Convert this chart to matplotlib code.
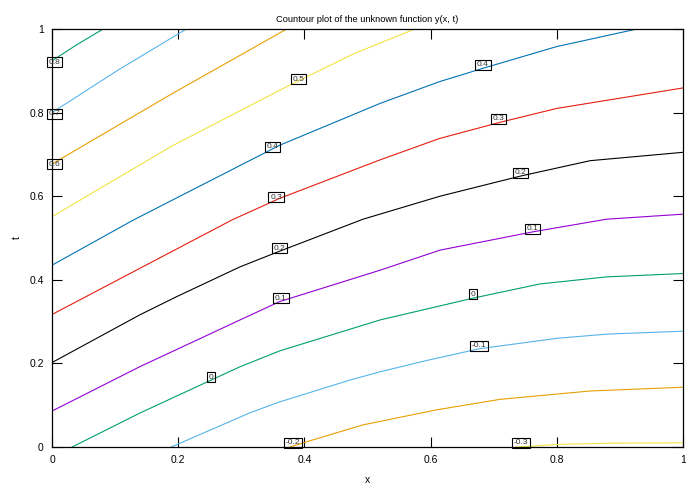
import matplotlib
matplotlib.use("Agg")
import matplotlib.pyplot as plt

plt.rcParams['font.family'] = ['Liberation Sans', 'DejaVu Sans']

# contour levels, highest first (gnuplot colour cycle)
levels = [0.8, 0.7, 0.6, 0.5, 0.4, 0.3, 0.2, 0.1, 0.0, -0.1, -0.2, -0.3]
colors = ['#009e73', '#56b4e9', '#e69f00', '#f0e442', '#0072b2', '#e51e10',
          '#000000', '#9400d3', '#009e73', '#56b4e9', '#e69f00', '#f0e442']

# contour polylines (x, t)
line_x = [
    [0, 0.04, 0.081],
    [0, 0.105, 0.213],
    [0, 0.19, 0.372],
    [0, 0.19, 0.377, 0.48, 0.575],
    [0, 0.129, 0.361, 0.520, 0.614, 0.683, 0.800, 0.927],
    [0, 0.087, 0.285, 0.361, 0.520, 0.614, 0.708, 0.800, 1.0],
    [0, 0.139, 0.198, 0.298, 0.360, 0.493, 0.615, 0.742, 0.853, 1.0],
    [0, 0.139, 0.298, 0.361, 0.520, 0.615, 0.763, 0.879, 1.0],
    [0.032, 0.139, 0.252, 0.298, 0.361, 0.520, 0.667, 0.773, 0.879, 1.0],
    [0.189, 0.314, 0.361, 0.472, 0.520, 0.594, 0.677, 0.800, 0.879, 1.0],
    [0.377, 0.398, 0.493, 0.610, 0.710, 0.853, 1.0],
    [0.735, 0.757, 0.800, 0.879, 1.0],
]
line_t = [
    [0.924, 0.963, 1.0],
    [0.800, 0.902, 1.0],
    [0.677, 0.845, 1.0],
    [0.551, 0.72, 0.866, 0.942, 1.0],
    [0.435, 0.543, 0.722, 0.822, 0.874, 0.906, 0.958, 1.0],
    [0.317, 0.386, 0.543, 0.595, 0.687, 0.738, 0.776, 0.810, 0.859],
    [0.202, 0.316, 0.360, 0.431, 0.468, 0.545, 0.600, 0.648, 0.685, 0.705],
    [0.086, 0.192, 0.304, 0.348, 0.423, 0.471, 0.515, 0.545, 0.557],
    [0.0, 0.081, 0.160, 0.192, 0.230, 0.304, 0.356, 0.390, 0.407, 0.415],
    [0.0, 0.082, 0.108, 0.160, 0.180, 0.207, 0.235, 0.260, 0.270, 0.277],
    [0.0, 0.010, 0.053, 0.089, 0.114, 0.134, 0.143],
    [0.0, 0.002, 0.006, 0.009, 0.010],
]

# contour labels: text and position
label_text = ['0.8', '0.7', '0.6', '0.5', '0.4', '0.4', '0.3', '0.3', '0.2', '0.2',
              '0.1', '0.1', '0', '0', '-0.1', '-0.2', '-0.3']
label_x = [0.004, 0.004, 0.004, 0.391, 0.349, 0.683, 0.355, 0.708, 0.360, 0.742,
           0.363, 0.762, 0.252, 0.667, 0.677, 0.382, 0.743]
label_t = [0.921, 0.797, 0.677, 0.880, 0.718, 0.914, 0.598, 0.785, 0.476, 0.656,
           0.356, 0.522, 0.167, 0.366, 0.242, 0.010, 0.010]

fig = plt.figure(figsize=(6.86, 4.87), dpi=100)
ax = fig.add_axes([52/686, 40/487, 631/686, 418/487])

for lx, lt, c in zip(line_x, line_t, colors):
    ax.plot(lx, lt, color=c, lw=0.8)

for s, lx, lt in zip(label_text, label_x, label_t):
    ax.text(lx, lt, s, fontsize=6, ha='center', va='center', color='#333333',
            bbox=dict(boxstyle='square,pad=0.2', fc='none', ec='black', lw=0.8))

ax.set_xlim(0, 1)
ax.set_ylim(0, 1)
ax.set_xticks([0, 0.2, 0.4, 0.6, 0.8, 1])
ax.set_xticklabels(['0', '0.2', '0.4', '0.6', '0.8', '1'])
ax.set_yticks([0, 0.2, 0.4, 0.6, 0.8, 1])
ax.set_yticklabels(['0', '0.2', '0.4', '0.6', '0.8', '1'])
ax.tick_params(direction='in', length=7, width=0.8, top=True, right=True,
               labelsize=7.5, pad=6)
for sp in ax.spines.values():
    sp.set_linewidth(0.9)

ax.set_xlabel('x', fontsize=7.5, labelpad=7)
ax.set_ylabel('t', fontsize=7.5, labelpad=5)
ax.set_title('Countour plot of the unknown function y(x, t)', fontsize=6.7, pad=5)

fig.savefig('out.png', dpi=100)
